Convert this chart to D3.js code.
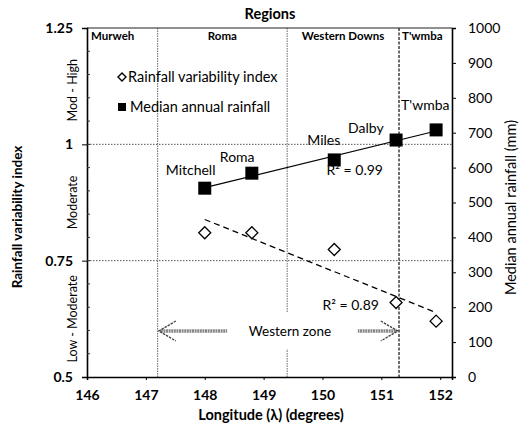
<!DOCTYPE html>
<html>
<head>
<meta charset="utf-8">
<script src="https://cdn.jsdelivr.net/npm/d3@7"></script>
<style>
  body { margin: 0; background: #fff; }
  text { font-family: Lato, "Open Sans", sans-serif; fill: #000; }
</style>
</head>
<body>
<svg id="chart" width="521" height="425"></svg>
<script>
// stations (west to east)
var stations = ['Mitchell', 'Roma', 'Miles', 'Dalby', "T'wmba"];
var longitude = [148.0, 148.8, 150.2, 151.25, 151.93];
var variability = [0.81, 0.81, 0.774, 0.66, 0.62];
var rainfall = [541, 584, 622, 679, 708];

// regions along the top
var regionNames = ['Murweh', 'Roma', 'Western Downs', "T'wmba"];
var regionBounds = [146, 147.2, 149.4, 151.3, 152.2];

var xTicks = [146, 147, 148, 149, 150, 151, 152];
var yTicks = [0.5, 0.75, 1, 1.25];
var y2Ticks = [0, 100, 200, 300, 400, 500, 600, 700, 800, 900, 1000];
var zoneNames = ['Low - Moderate', 'Moderate', 'Mod - High'];
var zoneBounds = [0.5, 0.75, 1, 1.25];
var r2Labels = ['R\u00b2 = 0.99', 'R\u00b2 = 0.89'];

var margin = {left: 87, right: 69, top: 28, bottom: 48};
var width = 521 - margin.left - margin.right,
	height = 425 - margin.top - margin.bottom;

var svg = d3.select('#chart');
var chart = svg.append('g')
	.attr('transform', 'translate(' + margin.left + ',' + margin.top + ')');

var x = d3.scaleLinear().domain([146, 152.2]).range([0, width]);
var y = d3.scaleLinear().domain([0.5, 1.25]).range([height, 0]);
var y2 = d3.scaleLinear().domain([0, 1000]).range([height, 0]);

// horizontal dotted gridlines
[0.75, 1].forEach(function(v) {
	chart.append('line')
		.attr('x1', 0).attr('x2', width)
		.attr('y1', y(v)).attr('y2', y(v))
		.attr('stroke', '#555').attr('stroke-width', 1)
		.attr('stroke-dasharray', '1.5,1.5');
});

// region boundaries
regionBounds.slice(1, -1).forEach(function(b, i) {
	chart.append('line')
		.attr('x1', x(b)).attr('x2', x(b))
		.attr('y1', 0).attr('y2', height)
		.attr('stroke', i == 2 ? '#222' : '#666')
		.attr('stroke-width', i == 2 ? 1.3 : 1)
		.attr('stroke-dasharray', i == 2 ? '3,1.5' : '1.5,1');
});

// top border
chart.append('line')
	.attr('x1', 0).attr('x2', width).attr('y1', 0).attr('y2', 0)
	.attr('stroke', '#222').attr('stroke-width', 1.2);

regionNames.forEach(function(n, i) {
	var a = x(regionBounds[i]), b = x(regionBounds[i + 1]);
	chart.append('text')
		.attr('x', i == 0 ? a + 4 : (i == 3 ? a + 3 : (a + b) / 2))
		.attr('y', 12)
		.attr('text-anchor', (i == 0 || i == 3) ? 'start' : 'middle')
		.attr('font-size', 11.5).attr('font-weight', 'bold')
		.text(n);
});

svg.append('text')
	.attr('x', 270).attr('y', 19)
	.attr('text-anchor', 'middle')
	.attr('font-size', 14.5).attr('font-weight', 'bold')
	.text('Regions');

// western zone arrow
var zoneY = 331 - margin.top;
var wz = chart.append('g');
wz.append('rect')
	.attr('x', 152).attr('y', zoneY - 18).attr('width', 98).attr('height', 36)
	.attr('fill', '#fff');
wz.append('text')
	.attr('x', 203).attr('y', zoneY + 5)
	.attr('text-anchor', 'middle').attr('font-size', 13.5)
	.text('Western zone');
[[x(147.22), x(148.38)], [x(151.28), x(150.6)]].forEach(function(s) {
	var dir = s[1] > s[0] ? 1 : -1;
	wz.append('line')
		.attr('x1', s[0] + dir * 2).attr('x2', s[1]).attr('y1', zoneY).attr('y2', zoneY)
		.attr('stroke', '#888').attr('stroke-width', 3.5)
		.attr('stroke-dasharray', '2,0.6');
	wz.append('path')
		.attr('d', 'M' + (s[0] + dir * 17) + ',' + (zoneY - 10) + 'L' + s[0] + ',' + zoneY + 'L' + (s[0] + dir * 17) + ',' + (zoneY + 10))
		.attr('fill', 'none').attr('stroke', '#444').attr('stroke-width', 1.4)
		.attr('stroke-dasharray', '2.5,1');
});

// axes
var xAxis = chart.append('g')
	.attr('transform', 'translate(0,' + height + ')')
	.call(d3.axisBottom(x).tickValues(xTicks).tickSize(3).tickFormat(d3.format('d')));
var yAxis = chart.append('g')
	.call(d3.axisLeft(y).tickValues(yTicks).tickSize(5).tickFormat(function(d) { return d; }));
var y2Axis = chart.append('g')
	.attr('transform', 'translate(' + width + ',0)')
	.call(d3.axisRight(y2).tickValues(y2Ticks).tickSize(4).tickFormat(d3.format('d')));

[xAxis, yAxis, y2Axis].forEach(function(a) {
	a.select('.domain').attr('stroke', '#000').attr('stroke-width', 1.6);
	a.selectAll('.tick line').attr('stroke', '#000');
	a.selectAll('.tick text').attr('font-size', 14).attr('font-weight', 'bold')
		.attr('font-family', 'Lato, sans-serif').attr('fill', '#000');
});
xAxis.selectAll('.tick text').attr('y', 23).attr('dy', 0);
yAxis.selectAll('.tick text').attr('x', -14);
y2Axis.selectAll('.tick text').attr('x', 16).attr('font-weight', 'normal');

// minor inside ticks on left axis
d3.range(0.55, 1.25, 0.05).forEach(function(v) {
	chart.append('line')
		.attr('x1', 0).attr('x2', 3).attr('y1', y(v)).attr('y2', y(v))
		.attr('stroke', '#333');
});

// zone labels (left)
zoneNames.forEach(function(n, i) {
	var cy = (y(zoneBounds[i]) + y(zoneBounds[i + 1])) / 2;
	chart.append('text')
		.attr('transform', 'translate(-10,' + (i == 2 ? cy + 4 : cy) + ') rotate(-90)')
		.attr('text-anchor', 'middle').attr('font-size', 12.5)
		.text(n);
});

// axis titles
svg.append('text')
	.attr('transform', 'translate(22,217) rotate(-90)')
	.attr('text-anchor', 'middle').attr('font-size', 13.5).attr('font-weight', 'bold')
	.text('Rainfall variability index');
svg.append('text')
	.attr('transform', 'translate(516,' + (margin.top + height / 2 + 5) + ') rotate(-90)')
	.attr('text-anchor', 'middle').attr('font-size', 14.5)
	.text('Median annual rainfall (mm)');
svg.append('text')
	.attr('x', 271).attr('y', 420)
	.attr('text-anchor', 'middle').attr('font-size', 14.5).attr('font-weight', 'bold')
	.text('Longitude (\u03bb) (degrees)');

// linear trend from the data
function fit(xs, ys) {
	var mx = d3.mean(xs), my = d3.mean(ys);
	var sxy = d3.sum(xs, function(v, i) { return (v - mx) * (ys[i] - my); });
	var sxx = d3.sum(xs, function(v) { return (v - mx) * (v - mx); });
	var b = sxy / sxx;
	return function(v) { return my + b * (v - mx); };
}
var xr = d3.extent(longitude);
var fr = fit(longitude, rainfall), fv = fit(longitude, variability);

chart.append('line')
	.attr('x1', x(xr[0])).attr('x2', x(xr[1]))
	.attr('y1', y2(fr(xr[0]))).attr('y2', y2(fr(xr[1])))
	.attr('stroke', '#000').attr('stroke-width', 1.2);
chart.append('line')
	.attr('x1', x(xr[0])).attr('x2', x(xr[1]))
	.attr('y1', y(fv(xr[0]))).attr('y2', y(fv(xr[1])))
	.attr('stroke', '#000').attr('stroke-width', 1.3)
	.attr('stroke-dasharray', '6,4');

// points
chart.selectAll('path.diamond')
	.data(longitude).enter()
	.append('path')
	.attr('class', 'diamond')
	.attr('transform', function(d, i) { return 'translate(' + x(d) + ',' + y(variability[i]) + ')'; })
	.attr('d', 'M0,-6L6,0L0,6L-6,0Z')
	.attr('fill', '#fff').attr('stroke', '#000').attr('stroke-width', 1.3);

chart.selectAll('rect.sq')
	.data(longitude).enter()
	.append('rect')
	.attr('class', 'sq')
	.attr('x', function(d) { return x(d) - 6.5; })
	.attr('y', function(d, i) { return y2(rainfall[i]) - 6.5; })
	.attr('width', 13).attr('height', 13)
	.attr('fill', '#000');

// station labels
var labelOff = [[-39, -13], [-32, -11], [-27, -15], [-48, -7], [-35, -20]];
stations.forEach(function(s, i) {
	chart.append('text')
		.attr('x', x(longitude[i]) + labelOff[i][0])
		.attr('y', y2(rainfall[i]) + labelOff[i][1])
		.attr('font-size', 14)
		.text(s);
});

chart.append('text')
	.attr('x', x(150.07)).attr('y', y(0.935))
	.attr('font-size', 14).text(r2Labels[0]);
chart.append('text')
	.attr('x', x(150.0)).attr('y', y(0.643))
	.attr('font-size', 14).text(r2Labels[1]);

// legend
var lg = chart.append('g').attr('transform', 'translate(31,0)');
lg.append('path')
	.attr('d', 'M0,-4L4,0L0,4L-4,0Z')
	.attr('transform', 'translate(4,49)')
	.attr('fill', '#fff').attr('stroke', '#000').attr('stroke-width', 1.4);
lg.append('text').attr('x', 10).attr('y', 54).attr('font-size', 14.5)
	.text('Rainfall variability index');
lg.append('rect').attr('x', 0).attr('y', 75).attr('width', 8).attr('height', 8).attr('fill', '#000');
lg.append('text').attr('x', 12).attr('y', 84).attr('font-size', 14.5)
	.text('Median annual rainfall');
</script>
</body>
</html>
